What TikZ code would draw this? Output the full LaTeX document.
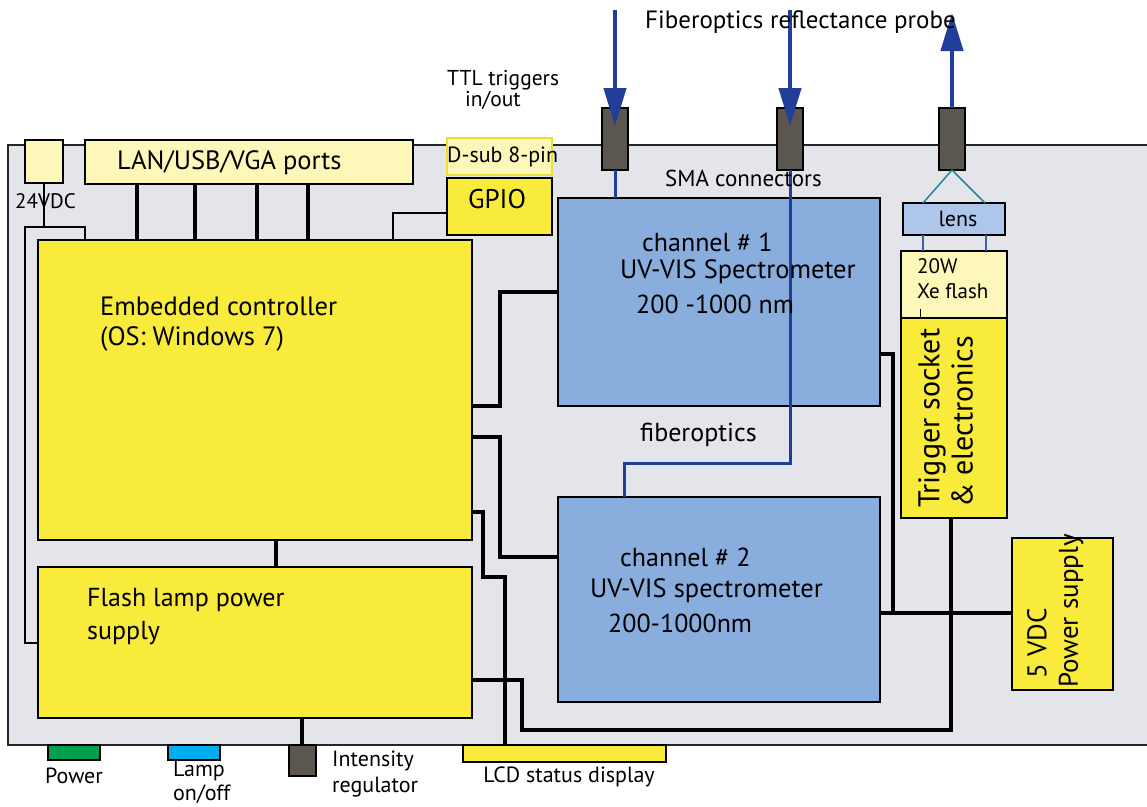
\documentclass[tikz,border=0pt]{standalone}
\usepackage{fontspec}
\setmainfont{PT Sans}
\usetikzlibrary{arrows.meta,calc}
\definecolor{casebg}{HTML}{E4E5EA}
\definecolor{yel}{HTML}{F9EB3B}
\definecolor{lyel}{HTML}{FDF7B9}
\definecolor{dsubedge}{HTML}{EEE030}
\definecolor{spec}{HTML}{89ADDD}
\definecolor{lensc}{HTML}{ADC6E9}
\definecolor{fib}{HTML}{213F9A}
\definecolor{fibl}{HTML}{3A5FB0}
\definecolor{smac}{HTML}{5B5650}
\definecolor{tealc}{HTML}{1C8A9C}
\definecolor{pgreen}{HTML}{00A04E}
\definecolor{pcyan}{HTML}{00AEEF}
\newcommand\fsz[1]{\fontsize{#1}{#1}\selectfont}
\newcommand\bx[6]{\node[box,#2,minimum width=#5pt,minimum height=#6pt] (#1) at (#3,#4) {};}
\begin{document}
\begin{tikzpicture}[x=1pt,y=-1pt,
  box/.style={draw=black, line width=1.5pt, inner sep=0pt, outer sep=0pt, anchor=north west},
  wire/.style={line width=3.6pt},
  thinwire/.style={line width=1.6pt},
  fiber/.style={draw=fib, line width=4.5pt},
  fiberthin/.style={draw=fib, line width=3pt},
  txt/.style={inner sep=0pt, anchor=west},
  tip/.style={-{Triangle[width=22pt,length=38pt]}},
]
\clip (0,0) rectangle (1147,806);
\fill[white] (0,0) rectangle (1147,806);
\node[box, fill=casebg, draw=black!85, line width=2.4pt, minimum width=1200pt, minimum height=600pt] (case) at (8,145) {};

% boxes
\bx{v24}{fill=lyel}{25}{140}{38}{43}
\bx{lan}{fill=lyel}{85}{140}{328}{44}
\bx{dsub}{fill=lyel,draw=dsubedge}{447}{138}{105}{37}
\bx{gpio}{fill=yel}{447}{178}{105}{57}
\bx{ctrl}{fill=yel}{38}{240}{434}{300}
\bx{flash}{fill=yel}{38}{567}{434}{151}
\bx{ch1}{fill=spec}{558}{198}{322}{208}
\bx{ch2}{fill=spec}{558}{497}{322}{205}
\bx{lens}{fill=lensc}{903}{203}{102}{32}
\bx{xe}{fill=lyel}{901}{251}{106}{67}
\bx{trig}{fill=yel}{901}{318}{106}{200}
\bx{psu}{fill=yel}{1012}{538}{101}{152}
\bx{sma1}{fill=smac}{602}{108}{26}{62}
\bx{sma2}{fill=smac}{777}{108}{26}{62}
\bx{sma3}{fill=smac}{939}{108}{26}{62}
\bx{pwr}{fill=pgreen}{48}{745}{52}{15}
\bx{lamp}{fill=pcyan}{168}{745}{52}{15}
\bx{knob}{fill=smac}{289}{745}{27}{31}
\bx{lcd}{fill=yel}{463}{745}{203}{17}

% thin wires
\draw[thinwire] (v24.south) -- (v24.south |- 0,227);
\draw[thinwire] (ctrl.north -| 85,0) |- (25,227) |- (flash.west |- 0,643);
\draw[thinwire] (gpio.west |- 0,213) -| (ctrl.north -| 393,0);

% thick wires
\foreach \xx in {137,195,257,308}
  \draw[wire] (lan.south -| \xx,0) -- (ctrl.north -| \xx,0);
\draw[wire] (ctrl.south -| 276,0) -- (flash.north -| 276,0);
\draw[wire] (ctrl.east |- 0,406) -| (500,292) -- (ch1.west |- 0,292);
\draw[wire] (ctrl.east |- 0,437) -| (500,557) -- (ch2.west |- 0,557);
\draw[wire] (ctrl.east |- 0,512) -| (483,577) -| (lcd.north -| 505,0);
\draw[wire] (flash.east |- 0,680) -| (522,730) -| (trig.south -| 951,0);
\draw[wire] (ch1.east |- 0,354) -| (893,613) -- (psu.west |- 0,613);
\draw[wire] (ch2.east |- 0,613) -- (psu.west |- 0,613);
\draw[wire] (flash.south -| 302,0) -- (knob.north -| 302,0);

% lens / lamp optics
\draw[fibl, line width=1.5pt] (lens.south -| 923,0) -- (xe.north -| 923,0);
\draw[fibl, line width=1.5pt] (lens.south -| 986,0) -- (xe.north -| 986,0);
\draw[tealc, line width=1.5pt] (sma3.south) -- (lens.north -| 923,0);
\draw[tealc, line width=1.5pt] (sma3.south) -- (lens.north -| 985,0);
\draw[line width=1pt] (920,309) -- (trig.north -| 920,0);

% fibers
\coordinate (in1) at (615,10);
\coordinate (in2) at (790,10);
\draw[fiber, tip] (in1) -- (sma1.center |- 0,126);
\draw[fiberthin] (sma1.south) -- (ch1.north -| sma1.south);
\draw[fiber, tip] (in2) -- (sma2.center |- 0,126);
\draw[fiberthin] (sma2.south) -- (790,463) -| (ch2.north -| 624,0);
\draw[fiber, tip] (sma3.north) -- (952,13);

% texts
\node[txt, font=\fsz{25}] at (645,22) {Fiberoptics reflectance probe};
\node[txt, font=\fsz{21.5}] at (447,80) {TTL triggers};
\node[txt, font=\fsz{21.5}] at (465,100) {in/out};
\node[txt, font=\fsz{23}] at (665,178) {SMA connectors};
\node[txt, font=\fsz{26}] at (640,435) {fiberoptics};
\node[txt, font=\fsz{21}] at (15,201) {24VDC};
\node[txt, font=\fsz{26.5}] at (117,163) {LAN/USB/VGA ports};
\node[txt, font=\fsz{22}] at (447,157) {D-sub 8-pin};
\node[font=\fsz{27}, inner sep=0pt] at (497,199) {GPIO};
\node[txt, font=\fsz{26.5}] at (100,306) {Embedded controller};
\node[txt, font=\fsz{26.5}] at (100,339) {(OS: Windows 7)};
\node[txt, font=\fsz{26}] at (87,600) {Flash lamp power};
\node[txt, font=\fsz{26}] at (87,633) {supply};
\node[txt, font=\fsz{26}] at (642,242) {channel \# 1};
\node[txt, font=\fsz{26.5}] at (620,272) {UV-VIS Spectrometer};
\node[txt, font=\fsz{26}] at (636,304) {200 -1000 nm};
\node[txt, font=\fsz{26}] at (620,557) {channel \# 2};
\node[txt, font=\fsz{26.5}] at (590,591) {UV-VIS spectrometer};
\node[txt, font=\fsz{26}] at (608,623) {200-1000nm};
\node[font=\fsz{22}, inner sep=0pt] at (958,219) {lens};
\node[txt, font=\fsz{21}] at (917,266) {20W};
\node[txt, font=\fsz{21}] at (917,291) {Xe flash};
\node[txt, font=\fsz{30}, rotate=90] at (932,508) {Trigger socket};
\node[txt, font=\fsz{30}, rotate=90] at (962,508) {\& electronics};
\node[txt, font=\fsz{27}, rotate=90] at (1037,679) {5 VDC};
\node[txt, font=\fsz{27}, rotate=90] at (1071,688) {Power supply};
\node[font=\fsz{22}, inner sep=0pt] at (74,776) {Power};
\node[txt, font=\fsz{22}] at (173,771) {Lamp};
\node[txt, font=\fsz{22}] at (173,794) {on/off};
\node[txt, font=\fsz{22}] at (332,761) {Intensity};
\node[txt, font=\fsz{22}] at (332,787) {regulator};
\node[font=\fsz{22}, inner sep=0pt] at (569,777) {LCD status display};
\end{tikzpicture}
\end{document}
